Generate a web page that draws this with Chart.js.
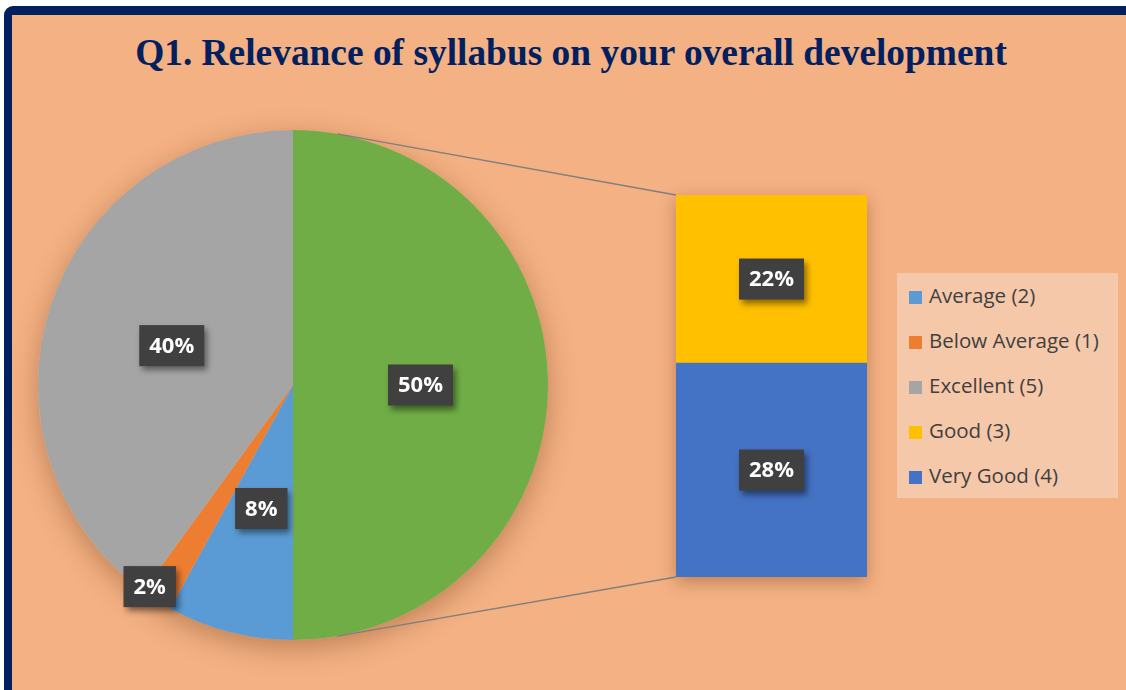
<!DOCTYPE html>
<html>
<head>
<meta charset="utf-8">
<script src="https://cdn.jsdelivr.net/npm/chart.js@4.4.1/dist/chart.umd.min.js"></script>
<style>
    body { margin: 0; width: 1126px; height: 690px; overflow: hidden; position: relative; background: #fff; }
    #frame { position: absolute; left: 4px; top: 6px; right: -20px; bottom: -20px; background: #F4B183;
             border-top: 9px solid #002060; border-left: 8px solid #002060; border-radius: 9px 0 0 0; }
    #title { position: absolute; left: 0; top: 33px; width: 1142px; text-align: center;
             font: bold 37.4px "Liberation Serif", "Times New Roman", serif; line-height: 40px; color: #002060; }
    canvas { position: absolute; left: 0; top: 0; }
    #legend { position: absolute; left: 897px; top: 273px; width: 221px; height: 225px; background: #F5C8AA; }
    .item { position: absolute; left: 12px; font: 20.5px "Open Sans", sans-serif; line-height: 28px; color: #404040; white-space: nowrap; }
    .item span { display: inline-block; width: 13px; height: 13px; margin-right: 7px; vertical-align: -1px; }
</style>
</head>
<body>
<div id="frame"></div>
<div id="title">Q1. Relevance of syllabus on your overall development</div>
<canvas id="pieChart" width="1126" height="690"></canvas>
<canvas id="barChart" width="1126" height="690"></canvas>
<div id="legend"></div>
<script>
// pie: the "Other" slice is broken out into the bar on the right
const pieLabels = ['Other', 'Average (2)', 'Below Average (1)', 'Excellent (5)'];
const pieValues = [50, 8, 2, 40];
const pieColors = ['#70AD47', '#5B9BD5', '#ED7D31', '#A5A5A5'];

const barLabels = ['Very Good (4)', 'Good (3)'];
const barValues = [28, 22];
const barColors = ['#4472C4', '#FFC000'];

const legendLabels = ['Average (2)', 'Below Average (1)', 'Excellent (5)', 'Good (3)', 'Very Good (4)'];
const legendColors = ['#5B9BD5', '#ED7D31', '#A5A5A5', '#FFC000', '#4472C4'];

// radial position of each pie label (fraction of radius, extra angle in degrees)
const pieLabelPos = [[0.5, 0], [0.5, 0], [0.97, 3], [0.5, 0]];

function drawTag(ctx, text, x, y) {
    ctx.save();
    ctx.font = 'bold 22px "Open Sans", sans-serif';
    const w = ctx.measureText(text).width + 20;
    const h = 41;
    ctx.shadowColor = 'rgba(0,0,0,0.45)';
    ctx.shadowBlur = 6;
    ctx.shadowOffsetX = 3;
    ctx.shadowOffsetY = 4;
    ctx.fillStyle = '#404040';
    ctx.fillRect(x - w / 2, y - h / 2, w, h);
    ctx.shadowColor = 'transparent';
    ctx.fillStyle = '#fff';
    ctx.textAlign = 'center';
    ctx.textBaseline = 'middle';
    ctx.fillText(text, x, y + 1);
    ctx.restore();
}

const pieShadow = {
    id: 'pieShadow',
    beforeDatasetsDraw(chart) {
        const arc = chart.getDatasetMeta(0).data[0];
        const ctx = chart.ctx;
        ctx.save();
        ctx.shadowColor = 'rgba(90,40,0,0.35)';
        ctx.shadowBlur = 28;
        ctx.shadowOffsetY = 8;
        ctx.fillStyle = '#F4B183';
        ctx.beginPath();
        ctx.arc(arc.x, arc.y, arc.outerRadius, 0, Math.PI * 2);
        ctx.fill();
        ctx.restore();
    }
};

const pieTags = {
    id: 'pieTags',
    afterDatasetsDraw(chart) {
        chart.getDatasetMeta(0).data.forEach((arc, i) => {
            const mid = (arc.startAngle + arc.endAngle) / 2 + pieLabelPos[i][1] * Math.PI / 180;
            const r = arc.outerRadius * pieLabelPos[i][0];
            drawTag(chart.ctx, pieValues[i] + '%', arc.x + Math.cos(mid) * r, arc.y + Math.sin(mid) * r);
        });
    }
};

const pieChart = new Chart(document.getElementById('pieChart'), {
    type: 'pie',
    data: {
        labels: pieLabels,
        datasets: [{ data: pieValues, backgroundColor: pieColors, borderWidth: 0 }]
    },
    options: {
        responsive: false,
        animation: false,
        layout: { padding: { left: 38, top: 130, right: 578, bottom: 50 } },
        plugins: { legend: { display: false }, tooltip: { enabled: false } }
    },
    plugins: [pieShadow, pieTags]
});

const connectors = {
    id: 'connectors',
    beforeDatasetsDraw(chart) {
        const arc = pieChart.getDatasetMeta(0).data[0];
        const top = chart.getDatasetMeta(1).data[0];
        const bottom = chart.getDatasetMeta(0).data[0];
        const left = top.x - top.width / 2;
        const a = 10 * Math.PI / 180;
        const ctx = chart.ctx;
        ctx.save();
        // bar shadow
        ctx.shadowColor = 'rgba(90,40,0,0.35)';
        ctx.shadowBlur = 16;
        ctx.shadowOffsetY = 5;
        ctx.fillStyle = '#F4B183';
        ctx.fillRect(left, top.y, top.width, bottom.base - top.y);
        ctx.shadowColor = 'transparent';
        ctx.strokeStyle = '#7F7F7F';
        ctx.lineWidth = 1.5;
        ctx.beginPath();
        ctx.moveTo(arc.x + Math.sin(a) * arc.outerRadius, arc.y - Math.cos(a) * arc.outerRadius);
        ctx.lineTo(left, top.y);
        ctx.moveTo(arc.x + Math.sin(a) * arc.outerRadius, arc.y + Math.cos(a) * arc.outerRadius);
        ctx.lineTo(left, bottom.base);
        ctx.stroke();
        ctx.restore();
    }
};

const barTags = {
    id: 'barTags',
    afterDatasetsDraw(chart) {
        barValues.forEach((v, i) => {
            const el = chart.getDatasetMeta(i).data[0];
            drawTag(chart.ctx, v + '%', el.x, (el.y + el.base) / 2);
        });
    }
};

new Chart(document.getElementById('barChart'), {
    type: 'bar',
    data: {
        labels: [''],
        datasets: barLabels.map((label, i) => ({
            label: label,
            data: [barValues[i]],
            backgroundColor: barColors[i],
            borderWidth: 0,
            barPercentage: 1,
            categoryPercentage: 1
        }))
    },
    options: {
        responsive: false,
        animation: false,
        layout: { padding: { left: 676, top: 195, right: 259, bottom: 113 } },
        scales: {
            x: { display: false, stacked: true },
            y: { display: false, stacked: true, min: 0, max: 50 }
        },
        plugins: { legend: { display: false }, tooltip: { enabled: false } }
    },
    plugins: [connectors, barTags]
});

// legend
const legend = document.getElementById('legend');
legendLabels.forEach((label, i) => {
    const div = document.createElement('div');
    div.className = 'item';
    div.style.top = (8 + i * 45) + 'px';
    div.innerHTML = '<span style="background:' + legendColors[i] + '"></span>' + label;
    legend.appendChild(div);
});
</script>
</body>
</html>
